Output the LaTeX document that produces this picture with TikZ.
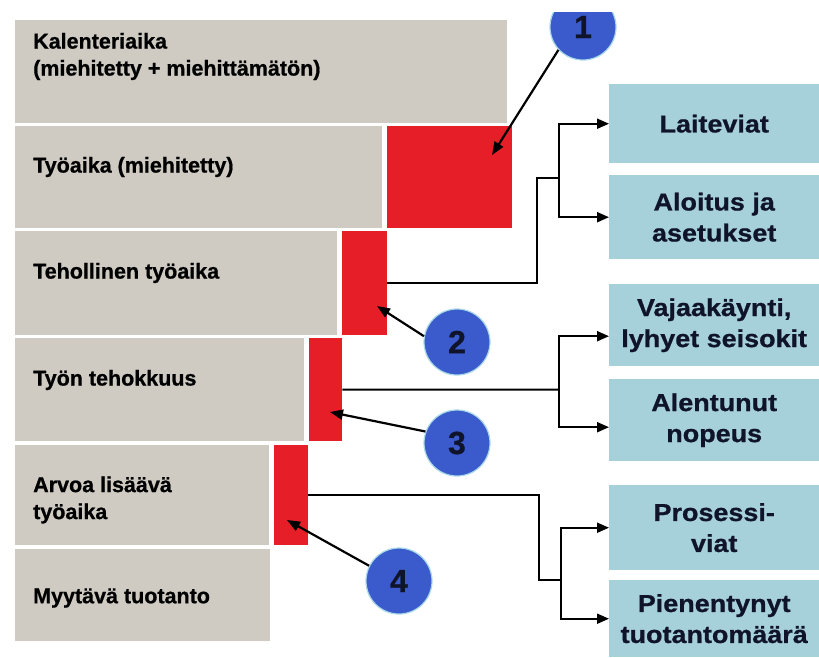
\documentclass[tikz,border=0pt]{standalone}
\usepackage{fontspec}
\setmainfont{Liberation Sans}
\newfontfamily\lblfont[FakeBold=0.8]{Liberation Sans Bold}
\newfontfamily\boxfont[FakeStretch=1.1,FakeBold=0.8]{Liberation Sans Bold}
\usetikzlibrary{arrows.meta}
\definecolor{bargrey}{HTML}{CFCBC3}
\definecolor{lossred}{HTML}{E61E28}
\definecolor{boxblue}{HTML}{A6D0DA}
\definecolor{ballblue}{HTML}{3B5BCC}
\definecolor{ballrim}{HTML}{A8D8E8}
\definecolor{navy}{HTML}{10142A}
\begin{document}
\begin{tikzpicture}[x=1pt,y=-1pt,
  bar/.style={fill=bargrey, draw=none, anchor=north west, inner sep=0pt},
  loss/.style={fill=lossred, draw=none, anchor=north west, inner sep=0pt},
  lbl/.style={anchor=west, font=\lblfont\fontsize{21.5}{27}\selectfont, align=left, inner sep=0pt, text=black},
  cause/.style={fill=boxblue, anchor=north west, inner sep=0pt, align=center, font=\boxfont\fontsize{24.5}{31}\selectfont, text=navy},
  ball/.style={circle, fill=ballblue, draw=ballrim, line width=1.2pt, minimum size=66pt, inner sep=0pt, font=\lblfont\fontsize{32}{32}\selectfont, text=navy},
  conn/.style={line width=2pt, draw=black},
  tip/.style={-{Triangle[length=12pt,width=10pt]}},
  pointer/.style={line width=2.2pt, -{Triangle[length=13pt,width=10pt]}},
]
\useasboundingbox (0,0) rectangle (819,657);
\fill[white] (0,0) rectangle (819,657);

% time bars
\node[bar, minimum width=492pt, minimum height=103pt] (bk) at (15,20) {};
\node[bar, minimum width=367pt, minimum height=102pt] (bt) at (15,126) {};
\node[loss, minimum width=125pt, minimum height=102pt] (r1) at (387,126) {};
\node[bar, minimum width=322pt, minimum height=104pt] (bte) at (15,231) {};
\node[loss, minimum width=45pt, minimum height=104pt] (r2) at (342,231) {};
\node[bar, minimum width=289pt, minimum height=103pt] (btt) at (15,338) {};
\node[loss, minimum width=33pt, minimum height=103pt] (r3) at (309,338) {};
\node[bar, minimum width=254pt, minimum height=100pt] (ba) at (15,445) {};
\node[loss, minimum width=34pt, minimum height=100pt] (r4) at (274,445) {};
\node[bar, minimum width=255pt, minimum height=92pt] (bm) at (15,549) {};

% bar labels
\node[lbl] (tk) at (33,56.5) {Kalenteriaika\\(miehitetty + miehittämätön)};
\node[lbl] (tt) at (33,167) {Työaika (miehitetty)};
\node[lbl] (tte) at (33,273) {Tehollinen työaika};
\node[lbl] (ttt) at (33,380) {Työn tehokkuus};
\node[lbl] (ta) at (33,500) {Arvoa lisäävä\\työaika};
\node[lbl] (tm) at (33,598) {Myytävä tuotanto};

% cause boxes
\node[cause, minimum width=210pt, minimum height=79pt] (b1) at (609,84) {Laiteviat};
\node[cause, minimum width=210pt, minimum height=84pt] (b2) at (609,175) {Aloitus ja\\asetukset};
\node[cause, minimum width=210pt, minimum height=82pt] (b3) at (609,284) {Vajaakäynti,\\lyhyet seisokit};
\node[cause, minimum width=210pt, minimum height=82pt] (b4) at (609,379) {Alentunut\\nopeus};
\node[cause, minimum width=210pt, minimum height=85pt] (b5) at (609,485) {Prosessi-\\viat};
\node[cause, minimum width=210pt, minimum height=77pt] (b6) at (609,580) {Pienentynyt\\tuotantomäärä};

% numbered balls
\begin{scope}
  \clip (540,12) rectangle (630,80);
  \node[ball] (c1) at (583,27) {1};
\end{scope}
\node[ball] (c2) at (457,342) {2};
\node[ball] (c3) at (457,443) {3};
\node[ball] (c4) at (399,581) {4};

% pointers
\coordinate (p1) at (492,155);
\coordinate (p2) at (377,306);
\coordinate (p3) at (330,412);
\coordinate (p4) at (287,520);
\draw[pointer] (c1.223) -- (p1);
\draw[pointer] (c2.170) -- (p2);
\draw[pointer] (c3.160) -- (p3);
\draw[pointer] (c4.153) -- (p4);

% connectors
\coordinate (ja) at (537,178);
\coordinate (ka) at (559,178);
\draw[conn] (r2.east) -| (ja) -- (ka);
\draw[conn,tip] (ka) |- (b1.west);
\draw[conn,tip] (ka) |- (b2.west);

\coordinate (kb) at (559,389.5);
\draw[conn] (r3.east) -- (kb);
\draw[conn,tip] (kb) |- ([yshift=-11pt]b3.west);
\draw[conn,tip] (kb) |- ([yshift=-7pt]b4.west);

\coordinate (jc) at (539,580);
\coordinate (kc) at (561,580);
\draw[conn] (r4.east) -| (jc) -- (kc);
\draw[conn,tip] (kc) |- (b5.west);
\draw[conn,tip] (kc) |- (b6.west);
\end{tikzpicture}
\end{document}
